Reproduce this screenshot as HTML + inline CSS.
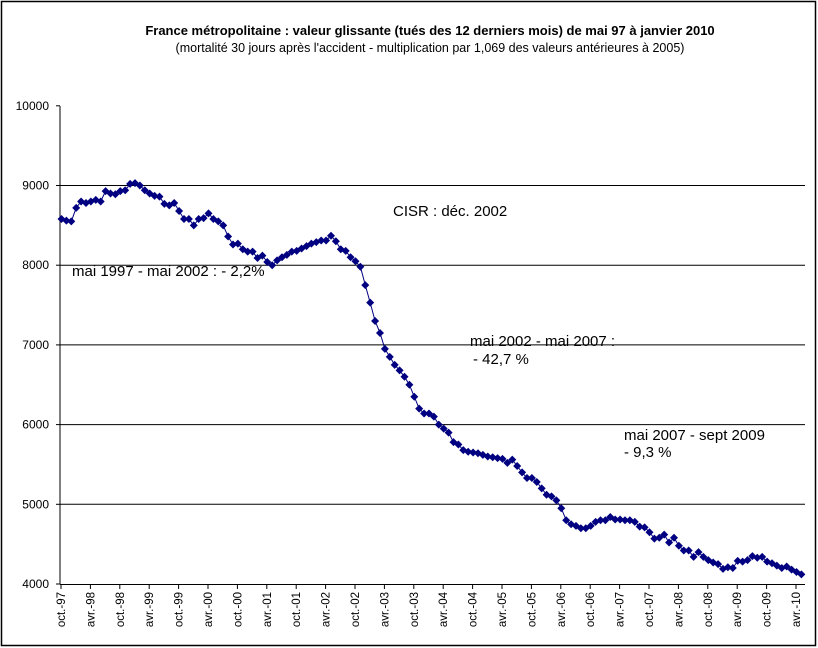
<!DOCTYPE html>
<html><head><meta charset="utf-8"><style>
body{margin:0;background:#fff}
svg{display:block;font-family:"Liberation Sans",Arial,sans-serif}
</style></head><body>
<svg id="s" width="818" height="648" viewBox="0 0 818 648">
<rect x="1.5" y="1.5" width="814" height="644" fill="#fff" stroke="#000" stroke-width="1.5"/>
<text x="430" y="35" text-anchor="middle" font-size="13" font-weight="bold">France métropolitaine : valeur glissante (tués des 12 derniers mois) de mai 97 à janvier 2010</text>
<text x="430" y="52" text-anchor="middle" font-size="12.5">(mortalité 30 jours après l'accident - multiplication par 1,069 des valeurs antérieures à 2005)</text>
<g id="g"></g>
<text x="393" y="216" font-size="15">CISR : déc. 2002</text>
<text x="72" y="276" font-size="15">mai 1997 - mai 2002 : - 2,2%</text>
<text x="470" y="346" font-size="15">mai 2002 - mai 2007 :</text>
<text x="473" y="364" font-size="15">- 42,7 %</text>
<text x="624" y="440" font-size="15">mai 2007 - sept 2009</text>
<text x="624" y="457" font-size="15">- 9,3 %</text>
</svg>
<script>
var g=document.getElementById('g'),h='';
function Y(v){return 584-(v-4000)*0.0797;}
for(var v=4000;v<=10000;v+=1000){var y=Y(v);
 if(v>4000&&v<10000)h+='<line x1="60" x2="805" y1="'+y+'" y2="'+y+'" stroke="#000"/>';
 h+='<line x1="56" x2="60" y1="'+y+'" y2="'+y+'" stroke="#000"/>';
 h+='<text x="49" y="'+(y+4)+'" text-anchor="end" font-size="12">'+v+'</text>';}
h+='<line x1="60" x2="60" y1="106" y2="584" stroke="#000"/>';
h+='<line x1="60" x2="805" y1="584.5" y2="584.5" stroke="#000"/>';
function X(m){return 61+m*4.9;}
for(var i=0;i<26;i++){var m=i*6,x=X(m);
 var lab=(i%2==0?'oct.-':'avr.-')+String(((97+Math.floor((i+1)/2))%100)).padStart(2,'0');
 h+='<line x1="'+x+'" x2="'+x+'" y1="584" y2="589" stroke="#000"/>';
 h+='<text transform="translate('+(x+4)+',592) rotate(-90)" text-anchor="end" font-size="11.5">'+lab+'</text>';}
var d=[8580,8560,8550,8720,8800,8780,8800,8820,8800,8930,8900,8890,8930,8940,9020,9030,9000,8940,8900,8870,8860,8770,8750,8780,8680,8580,8580,8500,8580,8590,8650,8580,8550,8500,8360,8260,8270,8200,8170,8170,8090,8120,8040,8000,8060,8100,8130,8170,8180,8210,8240,8270,8290,8310,8310,8370,8300,8200,8180,8100,8050,7980,7750,7530,7300,7150,6950,6850,6750,6680,6600,6500,6350,6200,6140,6140,6100,6000,5950,5900,5780,5750,5680,5660,5650,5640,5620,5600,5590,5580,5570,5520,5560,5480,5400,5330,5330,5280,5200,5120,5100,5050,4950,4800,4750,4730,4700,4700,4730,4780,4800,4800,4840,4810,4810,4800,4800,4780,4720,4710,4650,4570,4580,4620,4520,4580,4480,4420,4420,4340,4400,4340,4300,4270,4250,4190,4210,4200,4290,4280,4300,4350,4330,4340,4280,4260,4230,4200,4220,4180,4150,4120];
var p=d.map(function(v,i){return X(i+0.1).toFixed(1)+','+Y(v).toFixed(1)}).join(' ');
h+='<polyline points="'+p+'" fill="none" stroke="#000080" stroke-width="1"/>';
d.forEach(function(v,i){var x=X(i+0.1),y=Y(v);
 h+='<polygon points="'+x+','+(y-4)+' '+(x+4)+','+y+' '+x+','+(y+4)+' '+(x-4)+','+y+'" fill="#000080"/>';});
g.innerHTML=h;
</script>
</body></html>
